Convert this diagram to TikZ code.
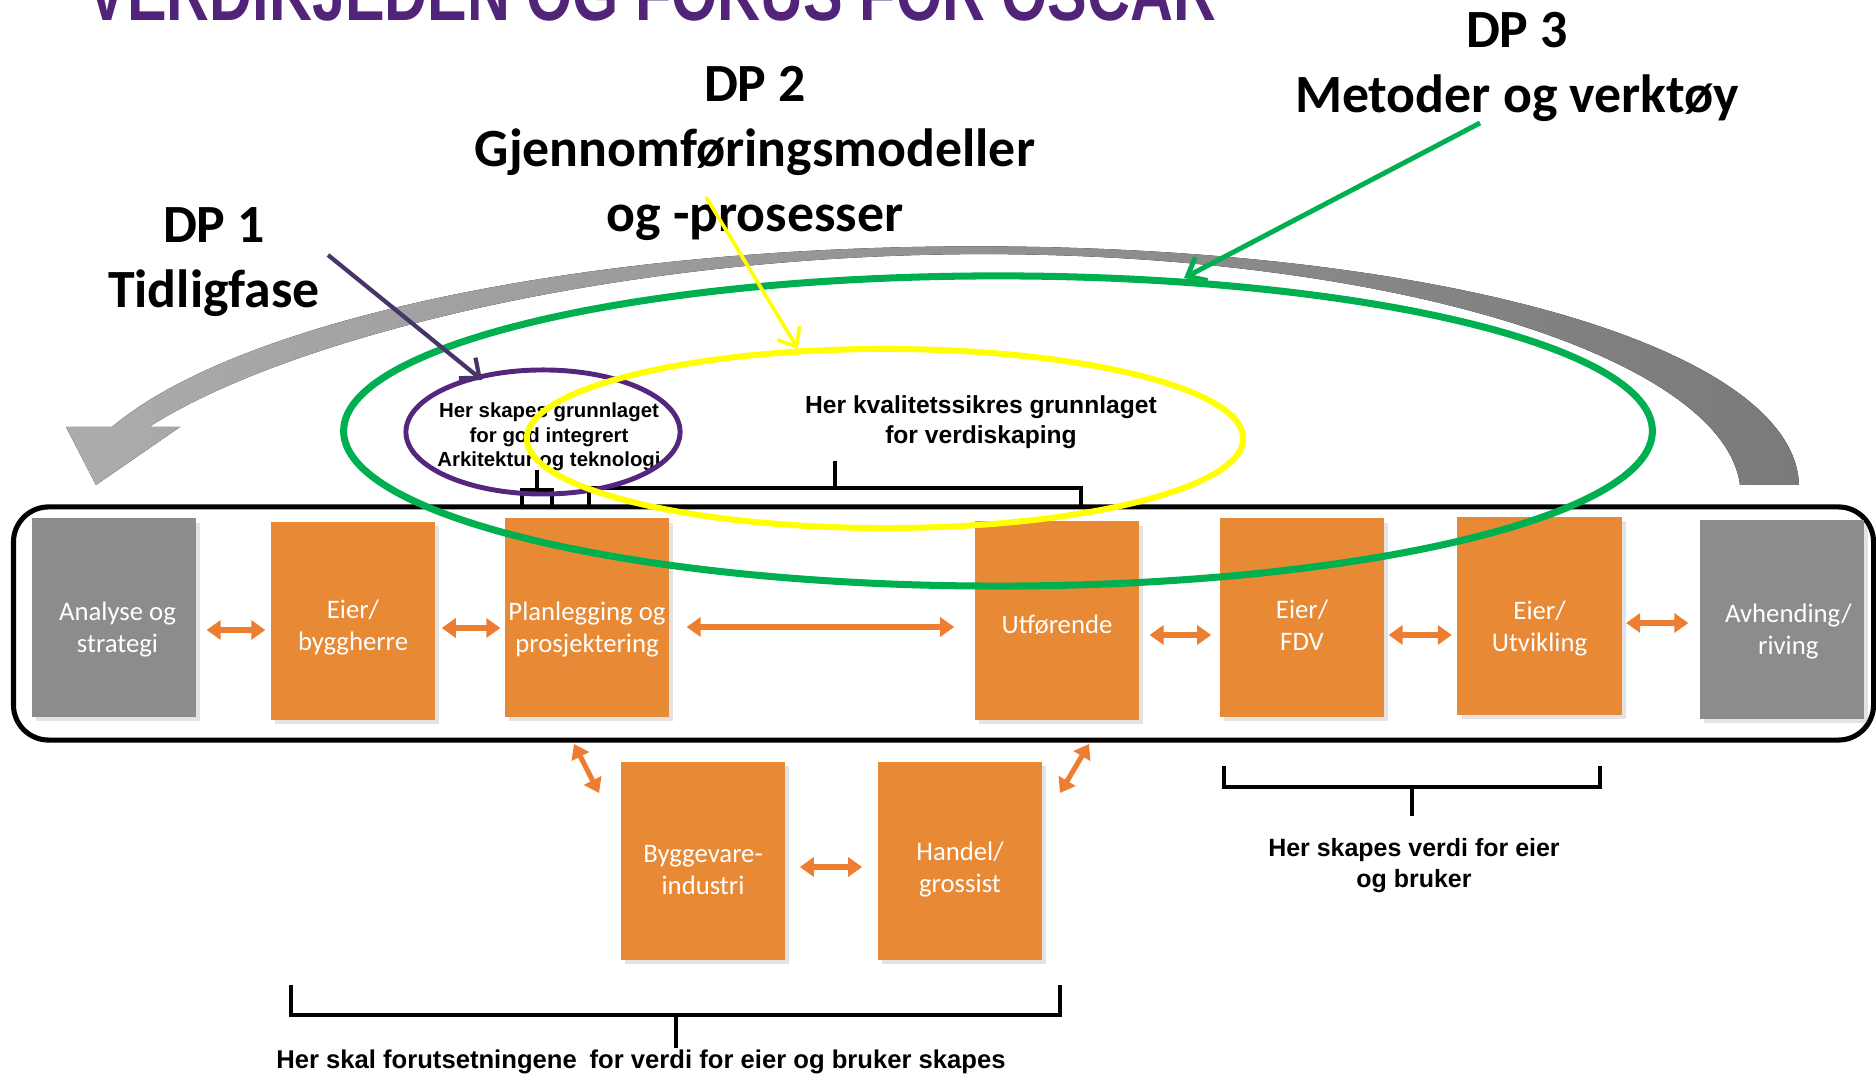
\documentclass[tikz,border=0pt]{standalone}
\usepackage{fontspec}
\usepackage{graphicx}
\setmainfont{Carlito}
\newfontfamily\arialfont{Liberation Sans}
\usetikzlibrary{arrows.meta,shadows,shapes.geometric}

\definecolor{boxorange}{RGB}{232,137,54}
\definecolor{boxgray}{RGB}{140,140,140}
\definecolor{arroworange}{RGB}{237,125,49}
\definecolor{titlepurple}{RGB}{81,36,121}
\definecolor{ringpurple}{RGB}{84,38,125}
\definecolor{pointerpurple}{RGB}{72,52,104}
\definecolor{ringgreen}{RGB}{0,176,80}
\definecolor{ringyellow}{RGB}{255,255,0}
\definecolor{bandlight}{RGB}{172,172,172}
\definecolor{banddark}{RGB}{122,122,122}

\begin{document}
\begin{tikzpicture}[x=0.01cm, y=-0.01cm,
  stage/.style={rectangle, inner sep=0pt, minimum width=1.64cm, minimum height=1.98cm,
    drop shadow={shadow xshift=1.2pt, shadow yshift=-1.2pt, opacity=0.22}},
  orangebox/.style={stage, fill=boxorange},
  graybox/.style={stage, fill=boxgray},
  stagetext/.style={text=white, align=center, inner sep=0pt, yshift=-3.3pt,
    font=\fontsize{7.6pt}{9.1pt}\selectfont},
  link/.style={draw=arroworange, line width=1.45pt,
    {Triangle[length=4pt,width=5.4pt]}-{Triangle[length=4pt,width=5.4pt]}},
  brace/.style={draw=black, line width=1.2pt},
  note/.style={font=\arialfont\bfseries\fontsize{7pt}{8.6pt}\selectfont, align=center, inner sep=0pt},
  dplabel/.style={font=\bfseries\fontsize{15.3pt}{18.35pt}\selectfont, align=center, inner sep=0pt},
  ring/.style={ellipse, inner sep=0pt},
  pointer/.style={line width=1.2pt, -{Straight Barb[length=4.5pt,width=7.5pt]}},
]
\clip (0,0) rectangle (1876,1077);

% curved return arrow behind everything
\fill[left color=bandlight, right color=banddark]
  (1740,485) -- (1799,485)
  .. controls (1795,360) and (1500,262) .. (1077,248)
  .. controls (650,234) and (250,310) .. (112,427)
  -- (66,427) -- (96,485) -- (180,427) -- (149,427)
  .. controls (300,330) and (680,240) .. (1077,256)
  .. controls (1450,271) and (1725,370) .. (1740,485) -- cycle;

% heading
\node[anchor=base west, inner sep=0pt, text=titlepurple,
  font=\arialfont\bfseries\fontsize{22pt}{22pt}\selectfont] (title) at (87,21)
  {\resizebox{320.9pt}{\height}{VERDIKJEDEN OG FOKUS FOR OSCAR}};

% value chain frame
\node[draw, line width=1.45pt, rounded corners=10pt, minimum width=18.59cm,
  minimum height=2.33cm, inner sep=0pt] (chain) at (943.5,623.5) {};

% stages
\node[graybox, label={[stagetext, xshift=1pt]center:Analyse og\\strategi}] (ana) at (114,617.5) {};
\node[orangebox, label={[stagetext, yshift=1.4pt]center:Eier/\\byggherre}] (eier) at (353,621) {};
\node[orangebox, label={[stagetext]center:Planlegging og\\prosjektering}] (plan) at (587,617.5) {};
\node[orangebox, label={[stagetext, yshift=2.2pt]center:Utførende}] (utf) at (1057,620.5) {};
\node[orangebox, label={[stagetext, yshift=1pt]center:Eier/\\FDV}] (fdv) at (1302,617.5) {};
\node[orangebox, label={[stagetext, yshift=-0.4pt]center:Eier/\\Utvikling}] (utv) at (1539.5,616) {};
\node[graybox, label={[stagetext, xshift=1.8pt]center:Avhending/\\riving}] (avh) at (1782,619.5) {};
\node[orangebox, label={[stagetext, yshift=0.6pt]center:Byggevare-\\industri}] (bygg) at (703,861) {};
\node[orangebox, label={[stagetext, yshift=1pt]center:Handel/\\grossist}] (handel) at (960,861) {};

% arrow levels
\coordinate (r1) at (0,630);
\coordinate (r2) at (0,628);
\coordinate (r3) at (0,627);
\coordinate (r4) at (0,635);
\coordinate (r6) at (0,623);
\coordinate (r7) at (0,867);

\draw[link, shorten <=2.8pt, shorten >=1.4pt] (ana.east |- r1) -- (eier.west |- r1);
\draw[link, shorten <=1.7pt, shorten >=1.1pt] (eier.east |- r2) -- (plan.west |- r2);
\draw[link, shorten <=4.8pt, shorten >=5.7pt] (plan.east |- r3) -- (utf.west |- r3);
\draw[link, shorten <=2.8pt, shorten >=2.3pt] (utf.east |- r4) -- (fdv.west |- r4);
\draw[link, shorten <=1.1pt, shorten >=1.4pt] (fdv.east |- r4) -- (utv.west |- r4);
\draw[link, shorten <=1.1pt, shorten >=3.1pt] (utv.east |- r6) -- (avh.west |- r6);
\draw[link, shorten <=4pt, shorten >=4.3pt] (bygg.east |- r7) -- (handel.west |- r7);

\coordinate (d1a) at (574,744);
\coordinate (d1b) at (599,793);
\coordinate (d2a) at (1089,744);
\coordinate (d2b) at (1060,793);
\draw[link] (d1a) -- (d1b);
\draw[link] (d2a) -- (d2b);

% brackets
\draw[brace] (522,508) -- (522,490) -- (552,490) -- (552,508) (537,490) -- (537,470);
\draw[brace] (589,508) -- (589,488) -- (1081,488) -- (1081,508) (835,488) -- (835,461);
\draw[brace] (1224,766) -- (1224,787) -- (1600,787) -- (1600,766) (1412,787) -- (1412,816);
\draw[brace] (291,985) -- (291,1015) -- (1060,1015) -- (1060,985) (676,1015) -- (676,1048);

% notes
\node[note, anchor=north, font=\arialfont\bfseries\fontsize{5.8pt}{7pt}\selectfont] (archnote) at (549,402)
  {Her skapes grunnlaget\\for god integrert\\Arkitektur og teknologi};
\node[note, anchor=north] (qualnote) at (981,395)
  {Her kvalitetssikres grunnlaget\\for verdiskaping};
\node[note, anchor=north, font=\arialfont\bfseries\fontsize{7.1pt}{8.8pt}\selectfont] (ownernote) at (1414,838)
  {Her skapes verdi for eier\\og bruker};
\node[note, anchor=base, font=\arialfont\bfseries\fontsize{7.3pt}{8pt}\selectfont] (prereqnote) at (641,1069)
  {\resizebox{207.4pt}{\height}{Her skal forutsetningene\hspace{0.5em}for verdi for eier og bruker skapes}};

% focus rings
\node[ring, draw=ringpurple, line width=1.4pt, minimum width=2.74cm, minimum height=1.24cm] (ring1) at (543,432) {};
\node[ring, draw=ringyellow, line width=1.7pt, minimum width=7.16cm, minimum height=1.79cm] (ring2) at (885,438.5) {};
\node[ring, draw=ringgreen, line width=2pt, minimum width=13.08cm, minimum height=3.1cm] (ring3) at (998,431) {};

% programme labels
\node[dplabel, anchor=north] (dp1) at (214,207) {DP 1\\Tidligfase};
\node[dplabel, anchor=north] (dp2) at (755,66) {DP 2\\Gjennomføringsmodeller\\og -prosesser};
\node[dplabel, anchor=north] (dp3) at (1517,12) {DP 3\\Metoder og verktøy};

% pointers
\coordinate (p1s) at (328,255);
\coordinate (p1e) at (482,380);
\coordinate (p2s) at (706,197);
\coordinate (p2e) at (798,349);
\coordinate (p3s) at (1480,123);
\coordinate (p3e) at (1184,278);
\draw[pointer, pointerpurple] (p1s) -- (p1e);
\draw[pointer, ringyellow, line width=1.05pt] (p2s) -- (p2e);
\draw[pointer, ringgreen, line width=1.4pt] (p3s) -- (p3e);
\end{tikzpicture}
\end{document}
